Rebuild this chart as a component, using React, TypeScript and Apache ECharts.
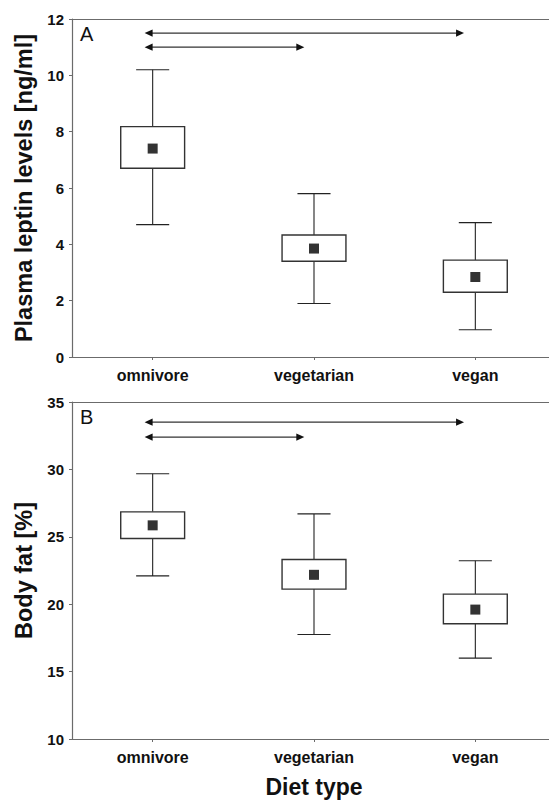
import React, { useEffect, useRef } from "react";
import * as echarts from "echarts";

const categories = ["omnivore", "vegetarian", "vegan"];

// Panel A: plasma leptin [ng/ml]  -> [low whisker, box bottom, box top, high whisker]
const leptinLow = [4.7, 1.9, 0.97];
const leptinQ1 = [6.7, 3.4, 2.3];
const leptinQ3 = [8.18, 4.33, 3.44];
const leptinHigh = [10.2, 5.8, 4.77];
const leptinMean = [7.4, 3.85, 2.84];
// arrows: [from (category position), to (category position), y]
const leptinArrows = [
  [-0.05, 1.93, 11.5],
  [-0.05, 0.94, 11.0],
];

// Panel B: body fat [%]
const fatLow = [22.1, 17.75, 16.0];
const fatQ1 = [24.87, 21.12, 18.55];
const fatQ3 = [26.85, 23.32, 20.75];
const fatHigh = [29.68, 26.7, 23.22];
const fatMean = [25.85, 22.18, 19.6];
const fatArrows = [
  [-0.05, 1.93, 33.5],
  [-0.05, 0.94, 32.4],
];

const yTicksA = { min: 0, max: 12, interval: 2 };
const yTicksB = { min: 10, max: 35, interval: 5 };

const FONT = "Liberation Sans";
const AXIS = "#6b6b6b";
const INK = "#222";

function boxData(lo: number[], q1: number[], q3: number[], hi: number[]) {
  return categories.map((_, i) => [i, lo[i], q1[i], q3[i], hi[i]]);
}

const boxRender = (params: any, api: any) => {
  const x = api.value(0);
  const lo = api.coord([x, api.value(1)]);
  const q1 = api.coord([x, api.value(2)]);
  const q3 = api.coord([x, api.value(3)]);
  const hi = api.coord([x, api.value(4)]);
  const band = api.size([1, 0])[0];
  const cx = lo[0];
  const bw = band * 0.396;
  const cw = band * 0.205;
  const ls = { stroke: INK, lineWidth: 1.1 };
  return {
    type: "group",
    children: [
      { type: "line", shape: { x1: cx, y1: hi[1], x2: cx, y2: q3[1] }, style: ls },
      { type: "line", shape: { x1: cx, y1: q1[1], x2: cx, y2: lo[1] }, style: ls },
      { type: "line", shape: { x1: cx - cw / 2, y1: hi[1], x2: cx + cw / 2, y2: hi[1] }, style: ls },
      { type: "line", shape: { x1: cx - cw / 2, y1: lo[1], x2: cx + cw / 2, y2: lo[1] }, style: ls },
      {
        type: "rect",
        shape: { x: cx - bw / 2, y: q3[1], width: bw, height: q1[1] - q3[1] },
        style: { fill: "#fff", stroke: "#333", lineWidth: 1.4 },
      },
    ],
  };
};

const arrowRender = (params: any, api: any) => {
  const y = api.value(2);
  const c0 = api.coord([0, y]);
  const band = api.size([1, 0])[0];
  const xa = c0[0] + api.value(0) * band;
  const xb = c0[0] + api.value(1) * band;
  const py = c0[1];
  const L = 8;
  const H = 3.6;
  const st = { fill: "#111" };
  return {
    type: "group",
    children: [
      {
        type: "line",
        shape: { x1: xa + L - 1, y1: py, x2: xb - L + 1, y2: py },
        style: { stroke: "#333", lineWidth: 1.2 },
      },
      { type: "polygon", shape: { points: [[xa, py], [xa + L, py - H], [xa + L, py + H]] }, style: st },
      { type: "polygon", shape: { points: [[xb, py], [xb - L, py - H], [xb - L, py + H]] }, style: st },
    ],
  };
};

function xAxisFor(gridIndex: number, withName: boolean) {
  return {
    type: "category",
    gridIndex,
    data: categories,
    boundaryGap: true,
    axisLine: { show: true, lineStyle: { color: AXIS, width: 1.2 } },
    axisTick: { show: true, alignWithLabel: true, length: 3, lineStyle: { color: AXIS } },
    axisLabel: { margin: 10, fontFamily: FONT, fontWeight: "bold", fontSize: 16, color: "#111" },
    splitLine: { show: false },
    name: withName ? "Diet type" : "",
    nameLocation: "middle",
    nameGap: 36,
    nameTextStyle: { fontFamily: FONT, fontWeight: "bold", fontSize: 23, color: "#111" },
  };
}

function topFrame(gridIndex: number) {
  return {
    type: "category",
    gridIndex,
    position: "top",
    data: categories,
    boundaryGap: true,
    axisLine: { show: true, lineStyle: { color: AXIS, width: 1.2 } },
    axisTick: { show: false },
    axisLabel: { show: false },
    splitLine: { show: false },
  };
}

function yAxisFor(gridIndex: number, t: { min: number; max: number; interval: number }, name: string) {
  return {
    type: "value",
    gridIndex,
    min: t.min,
    max: t.max,
    interval: t.interval,
    axisLine: { show: true, lineStyle: { color: AXIS, width: 1.2 } },
    axisTick: { show: true, length: 3, lineStyle: { color: AXIS } },
    axisLabel: { margin: 8, fontFamily: FONT, fontWeight: "bold", fontSize: 15, color: "#111" },
    splitLine: { show: false },
    name,
    nameLocation: "middle",
    nameGap: 34,
    nameTextStyle: { fontFamily: FONT, fontWeight: "bold", fontSize: 23.5, color: "#111" },
  };
}

export default function App() {
  const ref = useRef<HTMLDivElement>(null);
  useEffect(() => {
    if (!ref.current) return;
    const chart = echarts.init(ref.current, undefined, { renderer: "svg" });
    chart.setOption({
      animation: false,
      backgroundColor: "#fff",
      title: [
        { text: "A", left: 80, top: 24, padding: 0, textStyle: { fontFamily: FONT, fontSize: 20, fontWeight: "normal", color: "#111" } },
        { text: "B", left: 80, top: 407, padding: 0, textStyle: { fontFamily: FONT, fontSize: 20, fontWeight: "normal", color: "#111" } },
      ],
      grid: [
        { left: 72, right: 0, top: 19, height: 338 },
        { left: 72, right: 0, top: 402, height: 337 },
      ],
      xAxis: [xAxisFor(0, false), xAxisFor(1, true), topFrame(0), topFrame(1)],
      yAxis: [
        yAxisFor(0, yTicksA, "Plasma leptin levels [ng/ml]"),
        yAxisFor(1, yTicksB, "Body fat [%]"),
      ],
      series: [
        { type: "custom", xAxisIndex: 0, yAxisIndex: 0, renderItem: boxRender, data: boxData(leptinLow, leptinQ1, leptinQ3, leptinHigh), z: 2 },
        { type: "scatter", xAxisIndex: 0, yAxisIndex: 0, symbol: "rect", symbolSize: 10, itemStyle: { color: "#000" }, data: categories.map((_, i) => [i, leptinMean[i]]), z: 3 },
        { type: "custom", xAxisIndex: 0, yAxisIndex: 0, renderItem: arrowRender, data: leptinArrows, z: 2 },
        { type: "custom", xAxisIndex: 1, yAxisIndex: 1, renderItem: boxRender, data: boxData(fatLow, fatQ1, fatQ3, fatHigh), z: 2 },
        { type: "scatter", xAxisIndex: 1, yAxisIndex: 1, symbol: "rect", symbolSize: 10, itemStyle: { color: "#000" }, data: categories.map((_, i) => [i, fatMean[i]]), z: 3 },
        { type: "custom", xAxisIndex: 1, yAxisIndex: 1, renderItem: arrowRender, data: fatArrows, z: 2 },
      ],
    });
    return () => chart.dispose();
  }, []);
  return (
    <div style={{ position: "fixed", left: 0, top: 0, width: 549, height: 802, overflow: "hidden", background: "#fff" }}>
      <div ref={ref} style={{ width: 556, height: 802 }} />
    </div>
  );
}
